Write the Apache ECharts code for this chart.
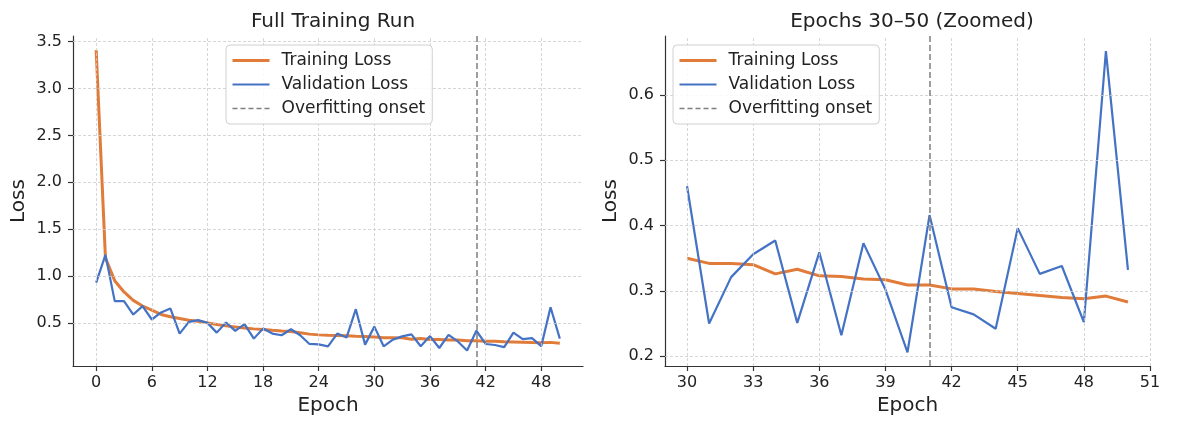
<!DOCTYPE html>
<html>
<head>
<meta charset="utf-8">
<script src="https://cdn.jsdelivr.net/npm/echarts@6.0.0/dist/echarts.min.js"></script>
<style>
  html, body { margin: 0; padding: 0; background: #fff; }
  #chart { width: 1189px; height: 421px; }
</style>
</head>
<body>
<div id="chart"></div>
<script>
  // data
  var epochs = [0,1,2,3,4,5,6,7,8,9,10,11,12,13,14,15,16,17,18,19,20,21,22,23,24,25,
    26,27,28,29,30,31,32,33,34,35,36,37,38,39,40,41,42,43,44,45,46,47,48,49,50];
  var trainLoss = [3.41,1.19,0.95,0.83,0.74,0.68,0.636,0.59,0.565,0.546,0.529,0.518,0.50,
    0.482,0.468,0.457,0.446,0.436,0.429,0.421,0.414,0.408,0.395,0.38,0.372,0.368,0.365,
    0.362,0.358,0.355,0.350,0.342,0.342,0.340,0.326,0.333,0.323,0.322,0.318,0.317,0.309,
    0.309,0.303,0.303,0.299,0.296,0.293,0.290,0.288,0.292,0.283];
  var valLoss = [0.929,1.225,0.732,0.732,0.589,0.679,0.536,0.611,0.654,0.386,0.511,0.529,
    0.50,0.396,0.504,0.414,0.486,0.332,0.439,0.386,0.368,0.432,0.368,0.275,0.271,0.25,
    0.386,0.343,0.646,0.268,0.460,0.250,0.321,0.356,0.377,0.251,0.359,0.232,0.373,0.302,
    0.206,0.416,0.275,0.264,0.242,0.396,0.326,0.338,0.252,0.667,0.332];
  var onsetEpoch = 41;
  var zoomStart = 30;

  var leftXTicks = [0,6,12,18,24,30,36,42,48];
  var leftYTicks = [0.5,1.0,1.5,2.0,2.5,3.0,3.5];
  var rightXTicks = [30,33,36,39,42,45,48,51];
  var rightYTicks = [0.2,0.3,0.4,0.5,0.6];

  var ORANGE = '#E07B39';
  var BLUE = '#4472C4';
  var GREY = '#7f7f7f';
  var FONT = 'DejaVu Sans';

  function pairs(xs, ys) {
    var out = [];
    for (var i = 0; i < xs.length; i++) out.push([xs[i], ys[i]]);
    return out;
  }

  // dashed grid lines drawn at the tick values
  function gridLines(idx, xt, yt) {
    var lines = [];
    xt.forEach(function (v) { lines.push({ xAxis: v }); });
    yt.forEach(function (v) { lines.push({ yAxis: v }); });
    return {
      type: 'line', xAxisIndex: idx, yAxisIndex: idx, data: [], z: 1, silent: true,
      markLine: {
        silent: true, symbol: ['none', 'none'], label: { show: false },
        lineStyle: { color: '#cccccc', type: [3, 2], width: 0.8 },
        data: lines, animation: false
      }
    };
  }

  function xAxis(idx, min, max, ticks) {
    return {
      type: 'value', gridIndex: idx, min: min, max: max,
      name: 'Epoch', nameLocation: 'middle', nameGap: 30,
      nameTextStyle: { fontFamily: FONT, fontSize: 20, color: '#222' },
      splitLine: { show: false },
      axisLine: { onZero: false, lineStyle: { color: '#333', width: 1.2 } },
      axisTick: { show: true, length: 5, customValues: ticks, lineStyle: { color: '#333', width: 1.2 } },
      axisLabel: { customValues: ticks, fontFamily: FONT, fontSize: 16, color: '#222', margin: 9 }
    };
  }

  function yAxis(idx, min, max, ticks, nameGap) {
    return {
      type: 'value', gridIndex: idx, min: min, max: max,
      name: 'Loss', nameLocation: 'middle', nameGap: nameGap,
      nameTextStyle: { fontFamily: FONT, fontSize: 20, color: '#222' },
      splitLine: { show: false },
      axisLine: { show: true, onZero: false, lineStyle: { color: '#333', width: 1.2 } },
      axisTick: { show: true, length: 5, customValues: ticks, lineStyle: { color: '#333', width: 1.2 } },
      axisLabel: {
        customValues: ticks, fontFamily: FONT, fontSize: 16, color: '#222', margin: 11,
        formatter: function (v) { return v.toFixed(1); }
      }
    };
  }

  function lossSeries(idx, name, data, color, width) {
    return {
      name: name, type: 'line', xAxisIndex: idx, yAxisIndex: idx, data: data,
      symbol: 'none', z: 3, lineStyle: { color: color, width: width }, itemStyle: { color: color }
    };
  }

  function onsetSeries(idx) {
    return {
      name: 'Overfitting onset', type: 'line', xAxisIndex: idx, yAxisIndex: idx, data: [],
      symbol: 'none', z: 2,
      lineStyle: { color: GREY, type: [5, 3], width: 1.5 }, itemStyle: { color: GREY },
      markLine: {
        silent: true, symbol: ['none', 'none'], label: { show: false },
        lineStyle: { color: GREY, type: [6, 3], width: 1.5 },
        data: [{ xAxis: onsetEpoch }], animation: false
      }
    };
  }

  function legend(left, top) {
    return {
      orient: 'vertical', left: left, top: top,
      data: ['Training Loss', 'Validation Loss', 'Overfitting onset'],
      itemWidth: 37, itemHeight: 14, itemGap: 7,
      padding: [7, 7, 7, 5],
      itemStyle: { opacity: 0 },
      lineStyle: { width: 'inherit' },
      backgroundColor: 'rgba(255,255,255,0.85)', borderColor: '#d0d0d0', borderWidth: 1, borderRadius: 4,
      textStyle: { fontFamily: FONT, fontSize: 17, lineHeight: 17, color: '#222', padding: [0, 0, 0, 7] },
      z: 10
    };
  }

  var zoomEpochs = epochs.slice(zoomStart);

  var option = {
    animation: false,
    backgroundColor: '#fff',
    title: [
      { text: 'Full Training Run', left: 328, top: 7, textAlign: 'center',
        textStyle: { fontFamily: FONT, fontSize: 20, fontWeight: 'normal', color: '#222' } },
      { text: 'Epochs 30–50 (Zoomed)', left: 907, top: 7, textAlign: 'center',
        textStyle: { fontFamily: FONT, fontSize: 20, fontWeight: 'normal', color: '#222' } }
    ],
    legend: [legend(226, 45), legend(673, 45)],
    grid: [
      { left: 73, right: 606, top: 36, bottom: 53 },
      { left: 665, right: 39, top: 36, bottom: 54 }
    ],
    xAxis: [xAxis(0, -2.5, 52.5, leftXTicks), xAxis(1, 29, 51, rightXTicks)],
    yAxis: [yAxis(0, 0.04, 3.56, leftYTicks, 44), yAxis(1, 0.185, 0.69, rightYTicks, 44)],
    series: [
      gridLines(0, leftXTicks, leftYTicks),
      gridLines(1, rightXTicks, rightYTicks),
      onsetSeries(0),
      onsetSeries(1),
      lossSeries(0, 'Training Loss', pairs(epochs, trainLoss), ORANGE, 3),
      lossSeries(0, 'Validation Loss', pairs(epochs, valLoss), BLUE, 2.2),
      lossSeries(1, 'Training Loss', pairs(zoomEpochs, trainLoss.slice(zoomStart)), ORANGE, 3),
      lossSeries(1, 'Validation Loss', pairs(zoomEpochs, valLoss.slice(zoomStart)), BLUE, 2.2)
    ]
  };

  var myChart = echarts.init(document.getElementById('chart'));
  myChart.setOption(option);
</script>
</body>
</html>
